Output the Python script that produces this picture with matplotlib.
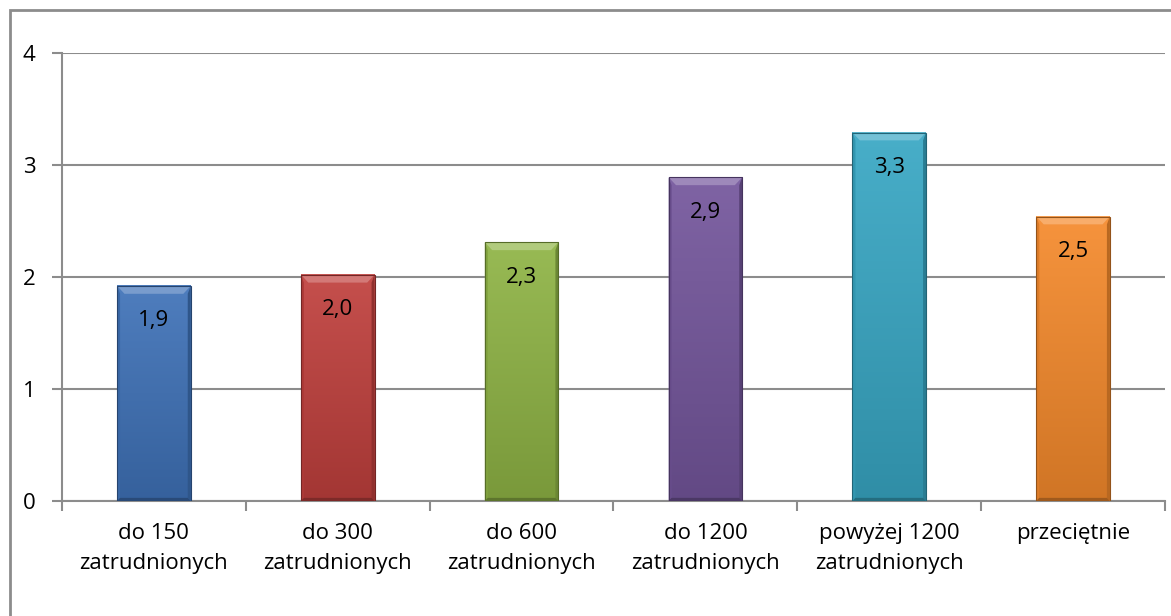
import numpy as np
import matplotlib.pyplot as plt
from matplotlib.patches import Polygon, Rectangle
from matplotlib.colors import to_rgb

categories = ["do 150\nzatrudnionych", "do 300\nzatrudnionych", "do 600\nzatrudnionych",
              "do 1200\nzatrudnionych", "powyżej 1200\nzatrudnionych", "przeciętnie"]
values = [1.92, 2.02, 2.31, 2.89, 3.29, 2.54]
labels = ["1,9", "2,0", "2,3", "2,9", "3,3", "2,5"]
colors = ["#3f72b8", "#c0403d", "#8fb445", "#74569c", "#38a7c4", "#f58a2c"]

plt.rcParams['font.family'] = ['Open Sans', 'DejaVu Sans']

W, H = 1171, 616
fig = plt.figure(figsize=(W / 100, H / 100), dpi=100)
ax = fig.add_axes([62 / W, 1 - 501 / H, (1165 - 62) / W, (501 - 53) / H])

# outer frame
fig.patches.append(Rectangle((10 / W, -0.1), 1.2, 1 - 10 / H + 0.1, transform=fig.transFigure,
                             fill=False, edgecolor="#8c8c8c", linewidth=2))


def shade(c, f):
    r = np.array(to_rgb(c))
    if f > 0:
        return tuple(r + (1 - r) * f)
    return tuple(r * (1 + f))


x = np.arange(len(values))
bars = ax.bar(x, values, width=0.4, color=colors, zorder=3)

bx, by = 0.04, 0.07
for b, c, lab in zip(bars, colors, labels):
    x0, w, h = b.get_x(), b.get_width(), b.get_height()
    b.set_visible(False)
    # vertical gradient body
    grad = np.linspace(0, 1, 100)[:, None]
    top, bot = np.array(shade(c, 0.08)), np.array(shade(c, -0.15))
    img = top[None, None, :] * (1 - grad[..., None]) + bot[None, None, :] * grad[..., None]
    ax.imshow(img, extent=(x0, x0 + w, 0, h), aspect="auto", origin="upper", zorder=3)
    # bevel sides
    ax.add_patch(Polygon([(x0, h), (x0 + w, h), (x0 + w - bx, h - by), (x0 + bx, h - by)],
                         closed=True, facecolor=shade(c, 0.3), edgecolor="none", zorder=4))
    ax.add_patch(Polygon([(x0, 0), (x0 + bx * 0.4, by * 0.4), (x0 + bx * 0.4, h - by), (x0, h)],
                         closed=True, facecolor=shade(c, -0.1), edgecolor="none", zorder=4))
    ax.add_patch(Polygon([(x0 + w, 0), (x0 + w - bx * 0.4, by * 0.4), (x0 + w - bx * 0.4, h - by), (x0 + w, h)],
                         closed=True, facecolor=shade(c, -0.25), edgecolor="none", zorder=4))
    ax.add_patch(Polygon([(x0, 0), (x0 + w, 0), (x0 + w - bx * 0.4, by * 0.4), (x0 + bx * 0.4, by * 0.4)],
                         closed=True, facecolor=shade(c, -0.35), edgecolor="none", zorder=4))
    ax.add_patch(Rectangle((x0, 0), w, h, fill=False, edgecolor=shade(c, -0.4), linewidth=0.8, zorder=5))
    ax.text(x0 + w / 2, h - 0.31, lab, ha="center", va="center", fontsize=16, color="black", zorder=6)

ax.set_xlim(-0.5, len(values) - 0.5)
ax.set_ylim(0, 4)
ax.set_yticks([0, 1, 2, 3, 4])
ax.set_xticks(np.arange(len(values) + 1) - 0.5)
ax.set_xticklabels([])
ax.set_xticks(x, minor=True)
ax.set_xticklabels(categories, minor=True, fontsize=16, linespacing=1.55)
ax.tick_params(axis="x", which="minor", length=0, pad=16)
ax.tick_params(axis="x", which="major", length=7, color="#8c8c8c", width=1.5, direction="out")
ax.tick_params(axis="y", length=7, color="#8c8c8c", width=1.5, labelsize=16, pad=12)
ax.yaxis.grid(True, color="#8c8c8c", linewidth=1.5, zorder=0)
ax.set_axisbelow(True)
for s in ["top", "right"]:
    ax.spines[s].set_visible(False)
for s in ["left", "bottom"]:
    ax.spines[s].set_color("#8c8c8c")
    ax.spines[s].set_linewidth(1.5)

fig.savefig("out.png", dpi=100)
